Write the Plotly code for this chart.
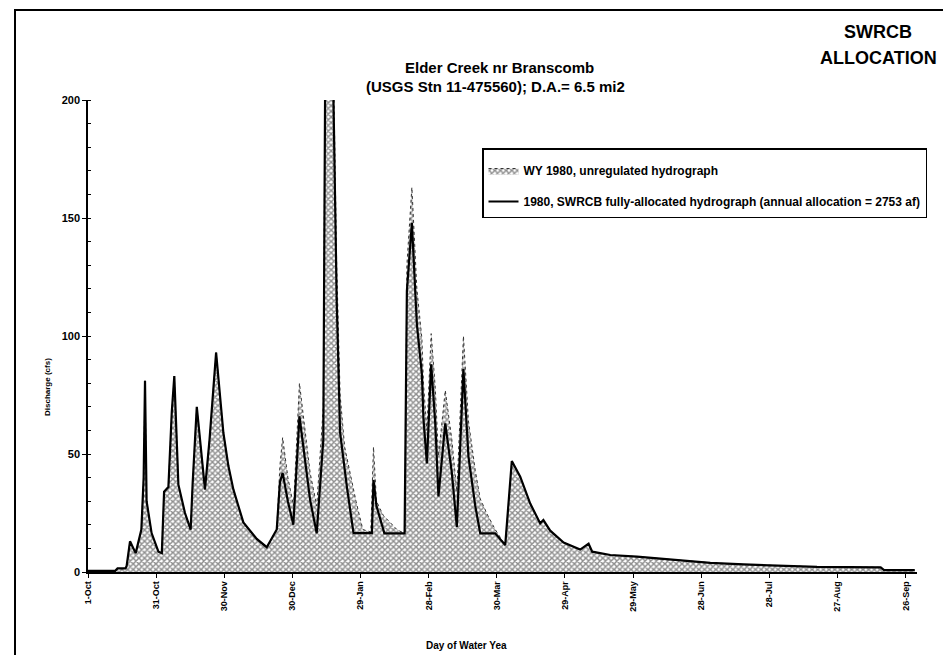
import plotly.graph_objects as go

# ── Data (read off the scanned hydrograph) ───────────────────────────────────
# day of water year (0 = 1-Oct) and discharge in cfs

unreg_day = [0, 12, 13, 16.5, 17, 18.5, 20, 21, 23.5, 24.5, 25.1, 25.8, 28, 31,
             32.5, 33.5, 35.4, 36.9, 38, 39.8, 42.7, 45.2, 46.1, 47.9, 51.5, 53.5,
             56.4, 58.1, 59.6, 61.8, 64, 68.4, 74.3, 78.7, 83.1, 84.5, 85.7, 88,
             90.5, 93.1, 97.8, 100.7, 103.6, 104.4, 108, 109.5, 111, 113, 118, 121,
             124.5, 125.7, 127, 130, 136, 139, 139.6, 140.4, 142.6, 144.8, 147,
             147.7, 149.2, 151.1, 152.9, 154.3, 157.3, 160.2, 162.4, 165.3, 167.5,
             170.5, 172.7, 176, 179.3, 183.7, 186.6, 190.3, 194.7, 199.1, 200.5,
             203.5, 209.4, 216.7, 220.4, 222, 230, 241.7, 259.3, 274, 288.7, 306,
             321, 349, 350.5, 364]
unreg_cfs = [0.5, 0.5, 1.5, 1.5, 2.5, 13, 10, 8, 18, 40, 81, 30, 16.5, 8.6,
             8, 34, 36, 68, 83, 37, 25, 18, 38, 70, 35, 56,
             93, 73, 59, 45, 35, 21, 14, 10.5, 18, 45, 57, 40,
             28, 80, 42, 28, 70, 215, 220, 130, 75, 53, 30, 18,
             17, 53, 30, 24, 18, 16.5, 17, 130, 163, 120, 99,
             80, 60, 101, 78, 49, 77, 56, 34, 100, 64,
             43, 31, 24, 18, 11.4, 47, 40.4, 29, 20.6, 22,
             17.5, 12.5, 9.5, 12, 8.6, 7.2, 6.5, 5.1, 3.9, 3.2, 2.7,
             2.2, 2, 0.8, 0.8]

alloc_day = [0, 12, 13, 16.5, 17, 18.5, 20, 21, 23.5, 24.5, 25.1, 25.8, 28, 31,
             32.5, 33.5, 35.4, 36.9, 38, 39.8, 42.7, 45.2, 46.1, 47.9, 51.5, 53.5,
             56.4, 58.1, 59.6, 61.8, 64, 68.4, 74.3, 78.7, 83.1, 84.5, 85.7, 88,
             90.4, 93.1, 97.8, 100.7, 103.6, 104.4, 108, 109.5, 111, 114, 116.9,
             125, 125.7, 127, 130, 130.5, 139.4, 140.4, 142.6, 144.8, 147, 147.7,
             149.2, 151.1, 152.9, 154.3, 157.3, 160.2, 162.4, 165.3, 167.5, 170.5,
             172.7, 179.3, 183.7, 186.6, 190.3, 194.7, 199.1, 200.5, 203.5, 209.4,
             216.7, 220.4, 222, 230, 241.7, 259.3, 274, 288.7, 306, 321, 349, 350.5,
             364]
alloc_cfs = [0.5, 0.5, 1.5, 1.5, 2.5, 13, 10, 8, 18, 40, 81, 30, 16.5, 8.6,
             8, 34, 36, 68, 83, 37, 25, 18, 38, 70, 35, 56,
             93, 73, 59, 45, 35, 21, 14, 10.5, 18, 38, 42, 30,
             20, 66, 30.5, 16.4, 56, 205, 205, 115, 59, 36, 16.5,
             16.5, 39, 28, 17, 16.4, 16.4, 119, 148, 105, 84, 65,
             46, 88, 63, 32, 63, 42, 19, 86, 49, 28,
             16.4, 16.4, 11.4, 47, 40.4, 29, 20.6, 22, 17.5, 12.5,
             9.5, 12, 8.6, 7.2, 6.5, 5.1, 3.9, 3.2, 2.7, 2.2, 2, 0.8,
             0.8]

tick_days = [0, 30, 60, 90, 120, 150, 180, 210, 240, 270, 300, 330, 360]
tick_labels = ["1-Oct", "31-Oct", "30-Nov", "30-Dec", "29-Jan", "28-Feb", "30-Mar",
               "29-Apr", "29-May", "28-Jun", "28-Jul", "27-Aug", "26-Sep"]

# ── Layout helpers (page pixel -> paper) ─────────────────────────────────────
OFF = 8                      # default body margin of the html page
W, H = 951 - OFF, 655 - OFF
ML, MR, MT, MB = 88 - OFF, 34, 100 - OFF, 83
FONT = "Arial, Liberation Sans, sans-serif"


def px(x):
    return (x - OFF - ML) / (W - ML - MR)


def py(y):
    return (H - MB - (y - OFF)) / (H - MT - MB)


fig = go.Figure()

fig.add_trace(go.Scatter(
    x=unreg_day, y=unreg_cfs,
    name="<b>WY 1980, unregulated hydrograph</b>",
    mode="lines",
    line=dict(color="#333333", width=1, dash="dot"),
    fill="tozeroy",
    fillcolor="rgba(0,0,0,0)",
    fillpattern=dict(shape="x", fgcolor="#1e1e1e", bgcolor="white", size=4, solidity=0.6),
    legendgroup="a",
))

fig.add_trace(go.Scatter(
    x=alloc_day, y=alloc_cfs,
    name="<b>1980, SWRCB fully-allocated hydrograph (annual allocation = 2753 af)</b>",
    mode="lines",
    line=dict(color="black", width=2.2),
    legendgroup="b",
))

fig.update_layout(
    width=W, height=H,
    margin=dict(l=ML, r=MR, t=MT, b=MB),
    paper_bgcolor="white", plot_bgcolor="white",
    font=dict(family=FONT, color="black"),
    showlegend=True,
    legend=dict(
        x=px(482), y=py(148), xanchor="left", yanchor="top",
        bordercolor="black", borderwidth=1.5, bgcolor="white",
        font=dict(size=12, family=FONT),
        title=dict(text=" ", font=dict(size=5)),
        tracegroupgap=12,
    ),
    xaxis=dict(
        range=[0, 365], showgrid=False, zeroline=False,
        showline=True, linecolor="black", linewidth=1.5,
        tickmode="array", tickvals=tick_days, ticktext=tick_labels,
        ticks="outside", ticklen=4, tickcolor="black",
        tickangle=-90, tickfont=dict(size=9, family=FONT, weight="bold"),
    ),
    yaxis=dict(
        range=[0, 200], showgrid=False, zeroline=False,
        showline=True, linecolor="black", linewidth=1.5,
        tickmode="linear", tick0=0, dtick=50,
        ticks="outside", ticklen=4, tickcolor="black",
        tickfont=dict(size=11, family=FONT, weight="bold"),
        minor=dict(dtick=10, ticks="inside", ticklen=3, tickcolor="black"),
    ),
)

# titles as annotations so they sit where the scan has them
notes = [
    ("<b>Elder Creek nr Branscomb</b>", 499, 68, 15, 0),
    ("<b>(USGS Stn 11-475560); D.A.= 6.5 mi2</b>", 495, 86, 15, 0),
    ("<b>SWRCB</b>", 878, 32, 18, 0),
    ("<b>ALLOCATION</b>", 878, 58, 18, 0),
    ("<b>Day of Water Yea</b>", 466, 645, 10, 0),
    ("<b>Discharge (cfs)</b>", 47, 387, 8, -90),
]
for txt, x, y, size, ang in notes:
    fig.add_annotation(
        text=txt, x=px(x), y=py(y), xref="paper", yref="paper",
        showarrow=False, xanchor="center", yanchor="middle",
        textangle=ang, font=dict(size=size, family=FONT, color="black"),
    )

# scanned page frame (left and top edges)
fig.add_shape(
    type="path", xref="paper", yref="paper",
    path=f"M {px(15)},{py(660)} L {px(15)},{py(10)} L {px(955)},{py(10)}",
    line=dict(color="black", width=2),
)

fig.write_html("out.html")
